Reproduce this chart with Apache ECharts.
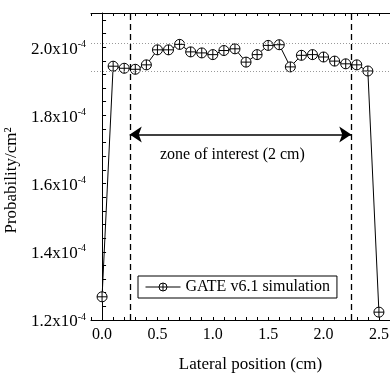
<!DOCTYPE html>
<html>
<head>
<meta charset="utf-8">
<script src="https://cdn.jsdelivr.net/npm/echarts@6/dist/echarts.min.js"></script>
<style>
  html, body { margin: 0; padding: 0; background: #fff; }
  #chart { width: 390px; height: 376px; }
</style>
</head>
<body>
<div id="chart"></div>
<script>
// Lateral position of each simulated voxel (cm)
const positions = [0.0, 0.1, 0.2, 0.3, 0.4, 0.5, 0.6, 0.7, 0.8, 0.9, 1.0, 1.1, 1.2,
                   1.3, 1.4, 1.5, 1.6, 1.7, 1.8, 1.9, 2.0, 2.1, 2.2, 2.3, 2.4, 2.5];
// Probability per cm², expressed in units of 1e-4
const probability = [1.268, 1.944, 1.938, 1.935, 1.948, 1.992, 1.992, 2.008, 1.986, 1.983,
                     1.978, 1.990, 1.995, 1.956, 1.978, 2.005, 2.007, 1.942, 1.976, 1.978,
                     1.971, 1.959, 1.951, 1.948, 1.930, 1.223];
const xTickLabels = ['0.0', '0.5', '1.0', '1.5', '2.0', '2.5'];
const yTickLabels = ['1.2', '1.4', '1.6', '1.8', '2.0'];
// Zone of interest: boundaries (cm), upper/lower levels inside it, arrow level
const zoneBounds = [0.25, 2.25];
const zoneLevels = [2.008, 1.934];
const arrowLevel = 1.744;
const zoneLabel = 'zone of interest (2 cm)';
const zoneLabelAt = [1.177, 1.683];
const seriesName = 'GATE v6.1 simulation';

const FONT = "'Liberation Serif', 'Times New Roman', serif";
const X_MIN = -0.1, X_MAX = 2.6, X_STEP = 0.1;
const Y_MIN = 1.2, Y_MAX = 2.1, Y_STEP = 0.04;

// circle with a cross through it
const crossCircle = 'path://M10 0A10 10 0 1 1 10 20A10 10 0 1 1 10 0ZM0 10L20 10M10 0L10 20';

function xLabel(v) {
  const k = Math.round(v / X_STEP);
  if (Math.abs(v / X_STEP - k) > 1e-6 || k < 0 || k % 5 !== 0) return '';
  return xTickLabels[k / 5] || '';
}
function yLabel(v) {
  const r = (v - Y_MIN) / Y_STEP;
  const k = Math.round(r);
  if (Math.abs(r - k) > 1e-6 || k % 5 !== 0) return '';
  const t = yTickLabels[k / 5];
  return t ? '{n|' + t + 'x10}{s|-4}' : '';
}

const xCommon = {
  type: 'value', min: X_MIN, max: X_MAX, interval: X_STEP,
  axisLine: { show: true, lineStyle: { color: '#000', width: 1 } },
  axisTick: { show: true, inside: true, length: 3, lineStyle: { color: '#000', width: 1 } },
  splitLine: { show: false }
};

const chart = echarts.init(document.getElementById('chart'), null, { renderer: 'canvas' });
chart.setOption({
  animation: false,
  backgroundColor: '#fff',
  grid: { left: 91, right: 0, top: 13, bottom: 56, containLabel: false, outerBoundsMode: 'none' },
  xAxis: [
    Object.assign({}, xCommon, {
      position: 'bottom',
      name: 'Lateral position (cm)', nameLocation: 'middle', nameGap: 36,
      nameTextStyle: { fontFamily: FONT, fontSize: 17, color: '#000', padding: [0, 0, 0, 20] },
      axisLabel: { formatter: xLabel, fontFamily: FONT, fontSize: 16, color: '#000', margin: 7 }
    }),
    Object.assign({}, xCommon, { position: 'top', axisLabel: { show: false } })
  ],
  yAxis: {
    type: 'value', min: Y_MIN, max: Y_MAX, interval: Y_STEP,
    name: 'Probability/cm²', nameLocation: 'middle', nameGap: 62,
    nameTextStyle: { fontFamily: FONT, fontSize: 17, color: '#000', padding: [0, 28, 0, 0] },
    axisLine: { show: true, lineStyle: { color: '#000', width: 1 } },
    axisTick: { show: true, inside: true, length: 4, lineStyle: { color: '#000', width: 1 } },
    splitLine: { show: false },
    axisLabel: {
      formatter: yLabel, margin: 5, color: '#000',
      rich: {
        n: { fontFamily: FONT, fontSize: 17, color: '#000', padding: [4, 0, 0, 0] },
        s: { fontFamily: FONT, fontSize: 10, color: '#000', padding: [0, 0, 6, 0] }
      }
    }
  },
  legend: {
    data: [seriesName],
    left: 138, top: 276,
    padding: [3, 7, 3, 7],
    borderColor: '#000', borderWidth: 1, borderRadius: 0,
    itemWidth: 35, itemHeight: 10, itemGap: 5,
    lineStyle: { width: 1, color: '#000' },
    itemStyle: { color: '#fff', borderColor: '#000', borderWidth: 1 },
    textStyle: { fontFamily: FONT, fontSize: 16, color: '#000' }
  },
  series: [
    {
      // zone of interest annotations
      type: 'line', data: [], z: 1, silent: true,
      markLine: {
        silent: true, animation: false, label: { show: false },
        symbol: ['none', 'none'],
        data: [
          { xAxis: zoneBounds[0], lineStyle: { type: [6, 4], color: '#000', width: 1.3 } },
          { xAxis: zoneBounds[1], lineStyle: { type: [6, 4], color: '#000', width: 1.3 } },
          { yAxis: zoneLevels[0], lineStyle: { type: [1, 2], color: '#999', width: 1 } },
          { yAxis: zoneLevels[1], lineStyle: { type: [1, 2], color: '#999', width: 1 } },
          [
            { coord: [zoneBounds[0], arrowLevel], symbol: 'arrow', symbolSize: 12,
              lineStyle: { type: 'solid', color: '#000', width: 1.7 } },
            { coord: [zoneBounds[1], arrowLevel], symbol: 'arrow', symbolSize: 12 }
          ]
        ]
      },
      markPoint: {
        silent: true, animation: false,
        symbol: 'circle', symbolSize: 0,
        label: { show: true, position: 'inside', fontFamily: FONT, fontSize: 16, color: '#000',
                 formatter: zoneLabel },
        data: [{ coord: zoneLabelAt }]
      }
    },
    {
      name: seriesName,
      type: 'line', z: 3,
      data: positions.map((x, i) => [x, probability[i]]),
      symbol: crossCircle, symbolSize: 10, showAllSymbol: true,
      lineStyle: { color: '#000', width: 1 },
      itemStyle: { color: '#fff', borderColor: '#000', borderWidth: 1 },
      emphasis: { disabled: true }
    }
  ]
});
</script>
</body>
</html>
